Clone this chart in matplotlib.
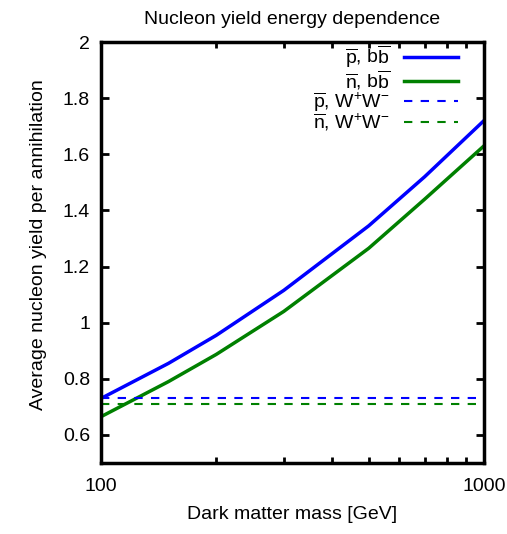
import numpy as np
import matplotlib
matplotlib.use('Agg')
import matplotlib.pyplot as plt
from matplotlib.ticker import FixedLocator, NullFormatter, NullLocator

plt.rcParams['font.family'] = ['Liberation Sans', 'DejaVu Sans']
plt.rcParams['mathtext.fontset'] = 'custom'
plt.rcParams['mathtext.rm'] = 'Liberation Sans'
plt.rcParams['mathtext.it'] = 'Liberation Sans'

# dark matter mass [GeV]
mass = [100, 150, 200, 300, 500, 700, 1000]
# average nucleon yield per annihilation, b bbar channel
pbar_bb = [0.73, 0.855, 0.955, 1.115, 1.345, 1.52, 1.72]
nbar_bb = [0.665, 0.79, 0.887, 1.04, 1.265, 1.44, 1.63]
# W+W- channel (flat)
mass_ww = [100, 1000]
pbar_ww = [0.733, 0.733]
nbar_ww = [0.711, 0.711]

labels = [r'$\overline{\mathrm{p}}$, b$\overline{\mathrm{b}}$',
          r'$\overline{\mathrm{n}}$, b$\overline{\mathrm{b}}$',
          r'$\overline{\mathrm{p}}$, W$^{+}$W$^{-}$',
          r'$\overline{\mathrm{n}}$, W$^{+}$W$^{-}$']

fs = 14

fig = plt.figure(figsize=(5.07, 5.34), dpi=100)
ax = fig.add_axes([101/507, 1 - 463/534, 383/507, 421/534])

ax.plot(mass, pbar_bb, color='#0000ff', lw=2.5, label=labels[0])
ax.plot(mass, nbar_bb, color='#008000', lw=2.5, label=labels[1])
ax.plot(mass_ww, pbar_ww, color='#0000ff', lw=1.5, dashes=(4, 4), label=labels[2])
ax.plot(mass_ww, nbar_ww, color='#008000', lw=1.5, dashes=(4, 4), label=labels[3])

ax.set_xscale('log')
ax.set_xlim(100, 1000)
ax.set_ylim(0.5, 2)
ax.xaxis.set_major_locator(FixedLocator([100, 1000]))
ax.xaxis.set_major_formatter(plt.FuncFormatter(lambda v, p: '%d' % v))
ax.xaxis.set_minor_locator(FixedLocator([200, 300, 400, 500, 600, 700, 800, 900]))
ax.xaxis.set_minor_formatter(NullFormatter())
ax.set_yticks([0.5, 0.6, 0.8, 1.0, 1.2, 1.4, 1.6, 1.8, 2.0])
ax.set_yticklabels(['', '0.6', '0.8', '1', '1.2', '1.4', '1.6', '1.8', '2'])
ax.yaxis.set_minor_locator(NullLocator())

ax.tick_params(which='both', direction='in', top=True, right=True, width=2,
               labelsize=fs, pad=8)
ax.tick_params(which='major', length=6)
ax.tick_params(which='minor', length=4)
ax.tick_params(axis='x', which='major', length=0, pad=11)
for s in ax.spines.values():
    s.set_linewidth(2.5)

ax.set_xlabel('Dark matter mass [GeV]', fontsize=fs, labelpad=8)
ax.set_ylabel('Average nucleon yield per annihilation', fontsize=fs)
ax.yaxis.set_label_coords(-0.14, 0.518)
ax.set_title('Nucleon yield energy dependence', fontsize=fs, pad=13)

ax.legend(loc='upper right', bbox_to_anchor=(0.932, 0.996), frameon=False,
          markerfirst=False, fontsize=fs, handlelength=2.8,
          labelspacing=-0.1, borderaxespad=0, borderpad=0,
          handletextpad=0.7)

fig.savefig('out.png', dpi=100)
